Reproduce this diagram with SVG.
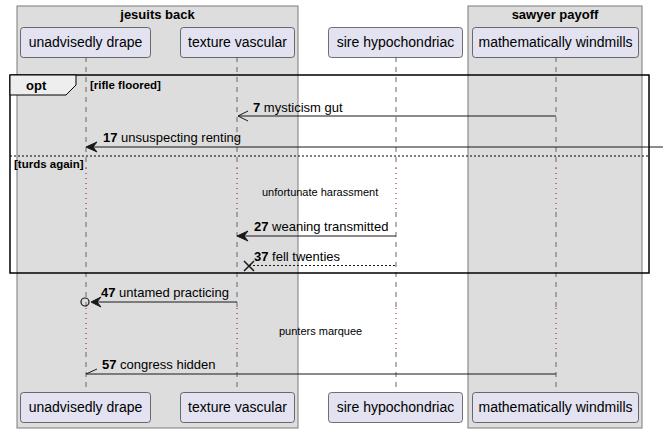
<svg xmlns="http://www.w3.org/2000/svg" width="663" height="433" viewBox="0 0 663 433">
<defs>
<style>
.bx{fill:#DDDDDD;stroke:#7a7a7a;stroke-width:1}
.bt{font-family:"Liberation Sans",Arial,sans-serif;font-size:13px;font-weight:bold;fill:#000;text-anchor:middle}
.p rect{fill:#E2E2F0;stroke:#181818;stroke-width:0.6}
.p text{font-family:"Liberation Sans",Arial,sans-serif;font-size:14px;fill:#000;text-anchor:middle}
.ll{stroke:#666;stroke-width:1;stroke-dasharray:5,5;fill:none}
.dl{stroke:#A80036;stroke-width:1;stroke-dasharray:1,4;fill:none}
.m{stroke:#181818;stroke-width:1;fill:none}
.md{stroke:#181818;stroke-width:1;fill:none;stroke-dasharray:2,2}
.ah{fill:#181818;stroke:#181818;stroke-width:1}
.t{font-family:"Liberation Sans",Arial,sans-serif;font-size:13px;fill:#000}
.n{font-weight:bold}
.d{font-family:"Liberation Sans",Arial,sans-serif;font-size:11px;fill:#000}
.g{font-family:"Liberation Sans",Arial,sans-serif;font-size:11.5px;font-weight:bold;fill:#000}
</style>
</defs>
<g id="box-jesuits-back">
<rect class="bx" x="17" y="6" width="281" height="422"/>
<text class="bt" x="157.5" y="19">jesuits back</text>
</g>
<g id="box-sawyer-payoff">
<rect class="bx" x="468" y="6" width="174" height="422"/>
<text class="bt" x="555" y="19">sawyer payoff</text>
</g>
<g id="lifelines">
<path class="ll" d="M86,57V168M86,212V308M86,352V392"/>
<path class="dl" d="M86,168V212M86,308V352"/>
<path class="ll" d="M237,57V168M237,212V308M237,352V392"/>
<path class="dl" d="M237,168V212M237,308V352"/>
<path class="ll" d="M396,57V168M396,212V308M396,352V392"/>
<path class="dl" d="M396,168V212M396,308V352"/>
<path class="ll" d="M556,57V168M556,212V308M556,352V392"/>
<path class="dl" d="M556,168V212M556,308V352"/>
</g>
<g id="unadvisedly-drape" class="p">
<rect x="20.5" y="27.5" width="130" height="30" rx="3"/>
<text x="85.5" y="47">unadvisedly drape</text>
<rect x="20.5" y="392.5" width="130" height="30" rx="3"/>
<text x="85.5" y="412">unadvisedly drape</text>
</g>
<g id="texture-vascular" class="p">
<rect x="180.5" y="27.5" width="114" height="30" rx="3"/>
<text x="237.5" y="47">texture vascular</text>
<rect x="180.5" y="392.5" width="114" height="30" rx="3"/>
<text x="237.5" y="412">texture vascular</text>
</g>
<g id="sire-hypochondriac" class="p">
<rect x="328.5" y="27.5" width="134" height="30" rx="3"/>
<text x="395.5" y="47">sire hypochondriac</text>
<rect x="328.5" y="392.5" width="134" height="30" rx="3"/>
<text x="395.5" y="412">sire hypochondriac</text>
</g>
<g id="mathematically-windmills" class="p">
<rect x="472.5" y="27.5" width="166" height="30" rx="3"/>
<text x="555.5" y="47">mathematically windmills</text>
<rect x="472.5" y="392.5" width="166" height="30" rx="3"/>
<text x="555.5" y="412">mathematically windmills</text>
</g>
<g id="opt-frame">
<rect x="10" y="75" width="639" height="198" fill="none" stroke="#000" stroke-width="1.5"/>
<polygon points="10,75 76,75 76,85 66,95 10,95" fill="#EEEEEE" stroke="#000" stroke-width="1"/>
<text class="t n" x="26" y="90">opt</text>
<text class="g" x="90" y="89">[rifle floored]</text>
<line x1="10" y1="156" x2="649" y2="156" stroke="#000" stroke-width="1" stroke-dasharray="2,2"/>
<text class="g" x="14" y="168">[turds again]</text>
</g>
<g id="connectors">
<line class="m" x1="238" y1="116" x2="556" y2="116"/>
<path class="m" d="M248,111L238,116L248,121"/>
<text class="t" x="253" y="112"><tspan class="n">7</tspan> mysticism gut</text>

<line class="m" x1="88" y1="147" x2="663" y2="147"/>
<polygon class="ah" points="86,147 97,142 93,147 97,152"/>
<text class="t" x="103" y="142"><tspan class="n">17</tspan> unsuspecting renting</text>

<text class="d" x="262" y="196">unfortunate harassment</text>

<line class="m" x1="239" y1="236" x2="396" y2="236"/>
<polygon class="ah" points="237,236 248,231 244,236 248,241"/>
<text class="t" x="254" y="231"><tspan class="n">27</tspan> weaning transmitted</text>

<line class="md" x1="249" y1="265.5" x2="396" y2="265.5"/>
<path d="M244,261L254,271M254,261L244,271" stroke="#181818" stroke-width="1.5" fill="none"/>
<text class="t" x="254" y="261"><tspan class="n">37</tspan> fell twenties</text>

<line class="m" x1="95" y1="302" x2="237" y2="302"/>
<polygon class="ah" points="91,302 101,297 97,302 101,307"/>
<circle cx="85" cy="302" r="4" fill="none" stroke="#181818" stroke-width="1.2"/>
<text class="t" x="101" y="297"><tspan class="n">47</tspan> untamed practicing</text>

<text class="d" x="279" y="335">punters marquee</text>

<line class="m" x1="86" y1="374" x2="556" y2="374"/>
<path class="m" d="M86,374L97,369"/>
<text class="t" x="102" y="369"><tspan class="n">57</tspan> congress hidden</text>
</g>
</svg>
